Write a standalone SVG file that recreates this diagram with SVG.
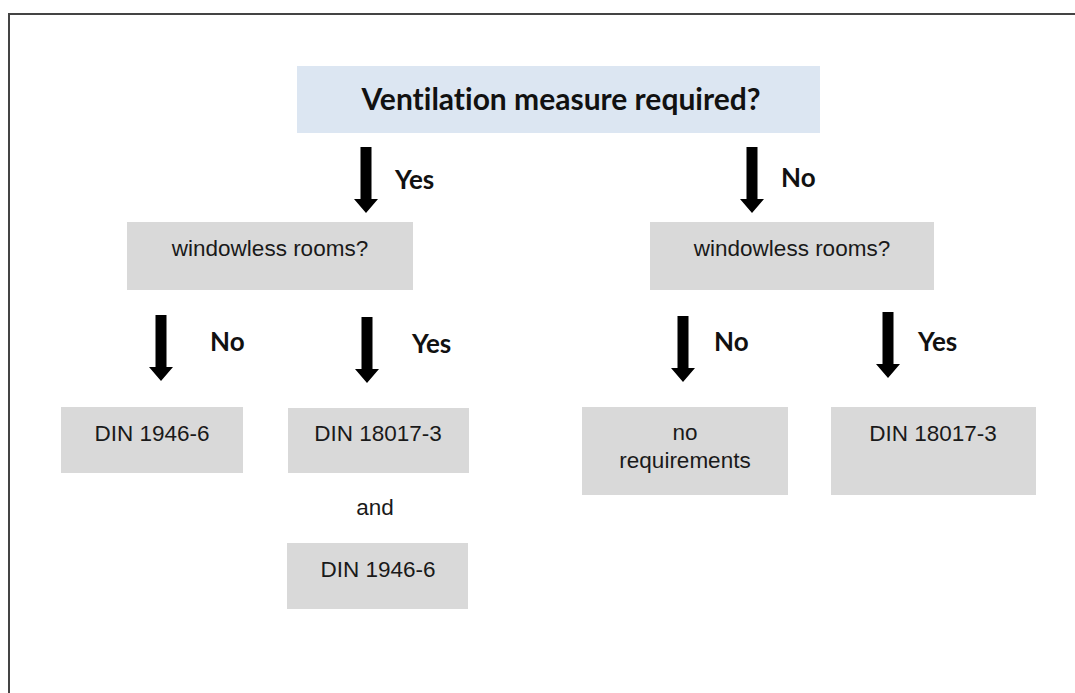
<svg xmlns="http://www.w3.org/2000/svg" width="1075" height="693" viewBox="0 0 1075 693">
  <defs>
    <style>
      .frame { fill: none; stroke: #444444; stroke-width: 2; }
      .q { fill: #dce6f2; }
      .box { fill: #d9d9d9; }
      .title { font-family: "Lato", "Liberation Sans", sans-serif; font-weight: bold; font-size: 30px; fill: #111111; text-anchor: middle; font-variant-ligatures: none; }
      .lbl { font-family: "Lato", "Liberation Sans", sans-serif; font-weight: bold; font-size: 26px; fill: #111111; }
      .txt { font-family: "Liberation Sans", Arial, sans-serif; font-size: 22.5px; fill: #1a1a1a; text-anchor: middle; }
      .arrow { fill: #000000; }
    </style>
    <!-- block arrow pointing down, origin at the tip -->
    <path id="down" class="arrow" d="M -5.5 -66 L 5.5 -66 L 5.5 -14 L 12 -14 L 0 0 L -12 -14 L -5.5 -14 Z"/>
  </defs>

  <rect width="1075" height="693" fill="#ffffff"/>
  <path class="frame" d="M 9 693 L 9 14 L 1075 14"/>

  <g id="q-ventilation">
    <rect class="q" x="297" y="66" width="523" height="67"/>
    <text class="title" x="561" y="110">Ventilation measure required?</text>
  </g>

  <g id="q-windowless-left">
    <rect class="box" x="127" y="222" width="286" height="68"/>
    <text class="txt" x="270" y="256">windowless rooms?</text>
  </g>

  <g id="q-windowless-right">
    <rect class="box" x="650" y="222" width="284" height="68"/>
    <text class="txt" x="792" y="256">windowless rooms?</text>
  </g>

  <g id="r-din1946-left">
    <rect class="box" x="61" y="407" width="182" height="66"/>
    <text class="txt" x="152" y="441">DIN 1946-6</text>
  </g>

  <g id="r-din18017-mid">
    <rect class="box" x="288" y="408" width="181" height="65"/>
    <text class="txt" x="378" y="441">DIN 18017-3</text>
  </g>

  <g id="t-and">
    <text class="txt" x="375" y="515">and</text>
  </g>

  <g id="r-din1946-mid">
    <rect class="box" x="287" y="543" width="181" height="66"/>
    <text class="txt" x="378" y="577">DIN 1946-6</text>
  </g>

  <g id="r-none">
    <rect class="box" x="582" y="407" width="206" height="88"/>
    <text class="txt" x="685" y="440">no</text>
    <text class="txt" x="685" y="468">requirements</text>
  </g>

  <g id="r-din18017-right">
    <rect class="box" x="831" y="407" width="205" height="88"/>
    <text class="txt" x="933" y="441">DIN 18017-3</text>
  </g>

  <g id="connectors">
    <use href="#down" x="366" y="213"/>
    <text class="lbl" x="395" y="189">Yes</text>

    <use href="#down" x="752" y="213"/>
    <text class="lbl" x="781" y="187">No</text>

    <use href="#down" x="161" y="381"/>
    <text class="lbl" x="210" y="351">No</text>

    <use href="#down" x="367" y="383"/>
    <text class="lbl" x="412" y="353">Yes</text>

    <use href="#down" x="683" y="382"/>
    <text class="lbl" x="714" y="351">No</text>

    <use href="#down" x="888" y="378"/>
    <text class="lbl" x="918" y="351">Yes</text>
  </g>
</svg>
